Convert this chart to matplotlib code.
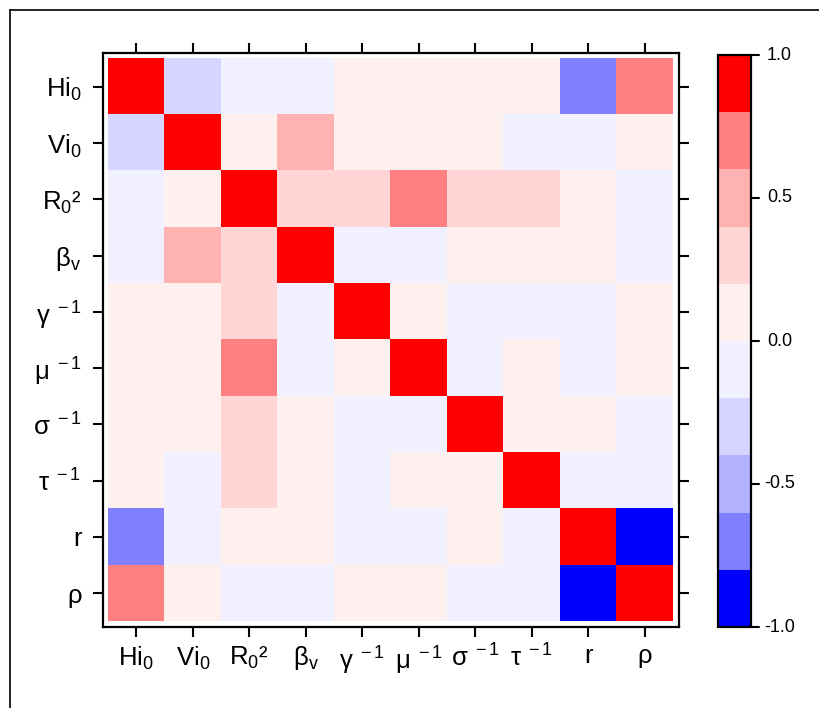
import numpy as np
import matplotlib
matplotlib.use("Agg")
import matplotlib.pyplot as plt
from matplotlib.colors import ListedColormap, BoundaryNorm
from matplotlib.lines import Line2D

plt.rcParams['font.family'] = ['Liberation Sans', 'DejaVu Sans']
plt.rcParams['mathtext.fontset'] = 'custom'
plt.rcParams['mathtext.rm'] = 'Liberation Sans'
plt.rcParams['mathtext.it'] = 'Liberation Sans'
plt.rcParams['mathtext.bf'] = 'Liberation Sans:bold'

labels = [r'$\mathregular{Hi_0}$', r'$\mathregular{Vi_0}$', r'$\mathregular{R_0}$²',
          r'$\mathregular{β_v}$', r'$\mathregular{γ^{\ -1}}$', r'$\mathregular{μ^{\ -1}}$',
          r'$\mathregular{σ^{\ -1}}$', r'$\mathregular{τ^{\ -1}}$', 'r', 'ρ']

corr = np.array([
    [ 1.0, -0.3, -0.1, -0.1,  0.1,  0.1,  0.1,  0.1, -0.7,  0.7],
    [-0.3,  1.0,  0.1,  0.5,  0.1,  0.1,  0.1, -0.1, -0.1,  0.1],
    [-0.1,  0.1,  1.0,  0.3,  0.3,  0.7,  0.3,  0.3,  0.1, -0.1],
    [-0.1,  0.5,  0.3,  1.0, -0.1, -0.1,  0.1,  0.1,  0.1, -0.1],
    [ 0.1,  0.1,  0.3, -0.1,  1.0,  0.1, -0.1, -0.1, -0.1,  0.1],
    [ 0.1,  0.1,  0.7, -0.1,  0.1,  1.0, -0.1,  0.1, -0.1,  0.1],
    [ 0.1,  0.1,  0.3,  0.1, -0.1, -0.1,  1.0,  0.1,  0.1, -0.1],
    [ 0.1, -0.1,  0.3,  0.1, -0.1,  0.1,  0.1,  1.0, -0.1, -0.1],
    [-0.7, -0.1,  0.1,  0.1, -0.1, -0.1,  0.1, -0.1,  1.0, -1.0],
    [ 0.7,  0.1, -0.1, -0.1,  0.1,  0.1, -0.1, -0.1, -1.0,  1.0],
])

cbar_ticks = [-1.0, -0.5, 0.0, 0.5, 1.0]
cbar_ticklabels = ['-1.0', '-0.5', '0.0', '0.5', '1.0']

colors = ['#0000ff', '#8080ff', '#b2b2ff', '#d5d5ff', '#f0f0ff',
          '#fff0f0', '#ffd5d5', '#ffb2b2', '#ff8080', '#ff0000']
cmap = ListedColormap(colors)
norm = BoundaryNorm(np.linspace(-1, 1, 11), cmap.N)

fig = plt.figure(figsize=(8.19, 7.08), dpi=100)
W, H = 819, 708

ax = fig.add_axes([103 / W, (H - 627) / H, 576 / W, 574 / H])
im = ax.imshow(corr, cmap=cmap, norm=norm, aspect='auto', interpolation='nearest')
ax.set_xlim(-0.59, 9.61)
ax.set_ylim(9.6, -0.6)
n = len(labels)
ax.set_xticks(range(n))
ax.set_yticks(range(n))
ax.set_xticklabels(labels, fontsize=18.5)
ax.set_yticklabels(labels, fontsize=18.5)
ax.tick_params(axis='both', which='both', direction='out', length=7.5, width=1.5,
               top=True, right=True, labeltop=False, labelright=False)
ax.tick_params(axis='x', pad=5)
ax.tick_params(axis='y', pad=8)
for sp in ax.spines.values():
    sp.set_linewidth(1.6)

cax = fig.add_axes([718 / W, (H - 627) / H, 33 / W, 572 / H])
cb = fig.colorbar(im, cax=cax)
cb.ax.minorticks_off()
cb.outline.set_linewidth(1.6)
cax.yaxis.set_ticks([])
cax.yaxis.set_ticks([], minor=True)
# colorbar ticks and centred labels, positioned through the colorbar's data scale
for v, s in zip(cbar_ticks, cbar_ticklabels):
    cax.annotate('', xy=(1.0, v), xycoords=('axes fraction', 'data'),
                 xytext=(1.0 + 8 / 33, v), textcoords=('axes fraction', 'data'),
                 arrowprops=dict(arrowstyle='-', lw=1.5, color='black',
                                 shrinkA=0, shrinkB=0), annotation_clip=False)
    cax.text(1.0 + 28.5 / 33, v, s, transform=cax.get_yaxis_transform(),
             ha='center', va='center', fontsize=13, clip_on=False)

# figure border (top & left)
fig.add_artist(Line2D([9.5 / W, 9.5 / W], [0, 1 - 9.5 / H], transform=fig.transFigure,
                      color='black', lw=1.2))
fig.add_artist(Line2D([9.5 / W, 1], [1 - 9.5 / H, 1 - 9.5 / H], transform=fig.transFigure,
                      color='black', lw=1.2))

fig.savefig('out.png', dpi=100)
